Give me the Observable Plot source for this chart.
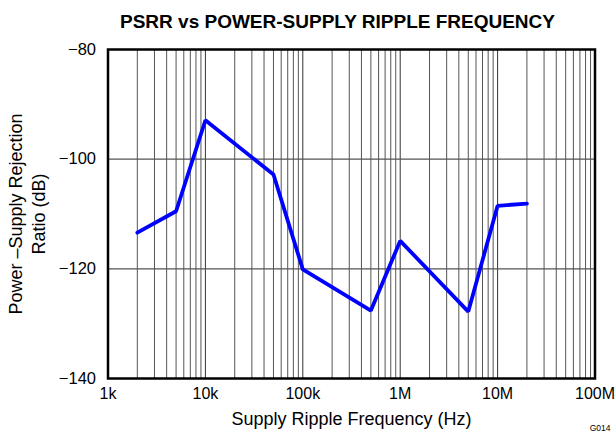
<!DOCTYPE html>
<html><head><meta charset="utf-8">
<script src="https://cdn.jsdelivr.net/npm/d3@7"></script>
<script src="https://cdn.jsdelivr.net/npm/@observablehq/plot@0.6"></script>
<style>
html,body{margin:0;padding:0;background:#fff;}
svg{font-family:"Liberation Sans",Arial,sans-serif;}
</style>
</head><body>
<div id="chart"></div>
<script>
const freqs = [2e3, 5e3, 1e4, 5e4, 1e5, 5e5, 1e6, 5e6, 1e7, 2e7];
const psrr = [-113.4, -109.5, -92.9, -102.8, -120.1, -127.6, -114.9, -127.8, -108.5, -108.1];
const xTicks = [1e3, 1e4, 1e5, 1e6, 1e7, 1e8];
const xTickLabels = ["1k", "10k", "100k", "1M", "10M", "100M"];
const yTicks = [-140, -120, -100, -80];
const title = "PSRR vs POWER-SUPPLY RIPPLE FREQUENCY";
const xLabel = "Supply Ripple Frequency (Hz)";
const yLabel = "Power –Supply Rejection\nRatio (dB)";
const figId = "G014";

const data = freqs.map((f, i) => ({f, v: psrr[i]}));
const minor = [];
for (let d = 1e3; d < 1e8; d *= 10) for (let k = 2; k <= 9; k++) minor.push(d * k);
const fmtX = (d) => xTickLabels[xTicks.indexOf(d)];
const fmtY = (d) => "\u2212" + Math.abs(d);

const chart = Plot.plot({
  width: 616, height: 434,
  marginLeft: 107.5, marginRight: 21.5, marginTop: 49, marginBottom: 56,
  style: {fontFamily: "'Liberation Sans', Arial, sans-serif", background: "#fff"},
  x: {type: "log", domain: [1e3, 1e8], axis: null},
  y: {domain: [-140, -80], axis: null},
  marks: [
    Plot.ruleX(minor, {stroke: "#555", strokeWidth: 1}),
    Plot.ruleX(xTicks, {stroke: "#333", strokeWidth: 1}),
    Plot.ruleY([-120, -100], {stroke: "#555", strokeWidth: 1.3}),
    Plot.frame({stroke: "#000", strokeWidth: 2.5}),
    Plot.line(data, {x: "f", y: "v", stroke: "#0000ff", strokeWidth: 3.8, strokeLinejoin: "miter"}),
    Plot.axisX({ticks: xTicks, tickFormat: fmtX, tickSize: 0, tickPadding: 9, fontSize: 16, fill: "#000", label: null}),
    Plot.axisY({ticks: yTicks, tickFormat: fmtY, tickSize: 0, tickPadding: 12, fontSize: 16.5, fill: "#000", label: null}),
    Plot.text([title], {frameAnchor: "top", dx: -14, dy: -28, lineAnchor: "middle", fontSize: 19, fontWeight: "bold", fill: "#000"}),
    Plot.text([xLabel], {frameAnchor: "bottom", dy: 41, lineAnchor: "middle", fontSize: 18, fill: "#000"}),
    Plot.text([yLabel], {frameAnchor: "left", dx: -82, rotate: -90, textAnchor: "middle", lineAnchor: "middle", fontSize: 18, lineHeight: 1.28, fill: "#000"}),
    Plot.text([figId], {frameAnchor: "bottom-right", dx: 15.5, dy: 50, lineAnchor: "middle", fontSize: 8.5, textAnchor: "end", fill: "#000"})
  ]
});
document.getElementById("chart").appendChild(chart);
</script>
</body></html>
